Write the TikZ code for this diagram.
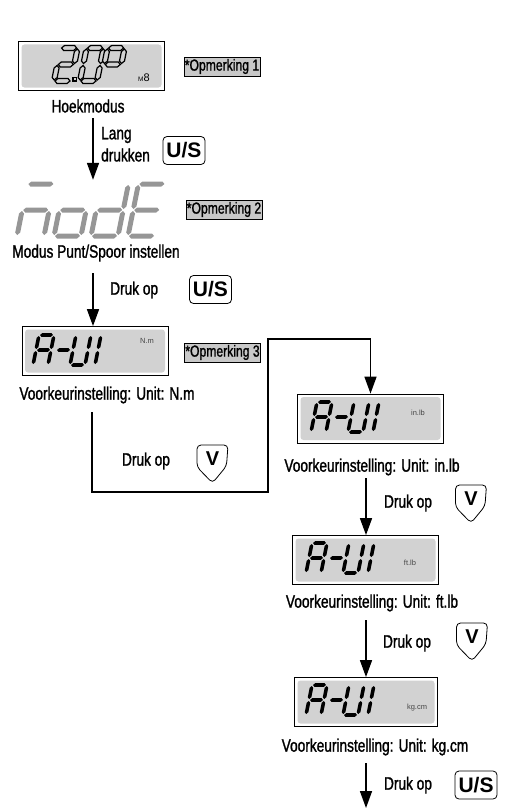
\documentclass[tikz,border=0pt]{standalone}
\usepackage{fontspec}
\setmainfont{Liberation Sans}
\newfontfamily\condfont{Liberation Sans}[FakeStretch=0.76, FakeBold=1.3]
\usepackage{tikz}
\usetikzlibrary{arrows.meta,calc,positioning}
\definecolor{lcdgray}{RGB}{210,210,210}
\definecolor{notegray}{RGB}{200,200,200}
\definecolor{modegray}{RGB}{150,150,150}
\definecolor{unitgray}{RGB}{70,70,70}

% seven segment characters
\def\segG{1}
\newcommand\segHor[2]{%
  \path[#2] ({\segG},{#1}) -- ({\segG+\segT/2},{#1+\segT/2}) -- ({\segW-\segG-\segT/2},{#1+\segT/2})
    -- ({\segW-\segG},{#1}) -- ({\segW-\segG-\segT/2},{#1-\segT/2}) -- ({\segG+\segT/2},{#1-\segT/2}) -- cycle;}
\newcommand\segVer[4]{%
  \path[#4] ({#1},{#2+\segG}) -- ({#1+\segT/2},{#2+\segG+\segT/2}) -- ({#1+\segT/2},{#3-\segG-\segT/2})
    -- ({#1},{#3-\segG}) -- ({#1-\segT/2},{#3-\segG-\segT/2}) -- ({#1-\segT/2},{#2+\segG+\segT/2}) -- cycle;}
\newcommand\lcdsega[1]{\segHor{\segHt}{#1}}
\newcommand\lcdsegb[1]{\segVer{\segW}{\segHt/2}{\segHt}{#1}}
\newcommand\lcdsegc[1]{\segVer{\segW}{0}{\segHt/2}{#1}}
\newcommand\lcdsegd[1]{\segHor{0}{#1}}
\newcommand\lcdsege[1]{\segVer{0}{0}{\segHt/2}{#1}}
\newcommand\lcdsegf[1]{\segVer{0}{\segHt/2}{\segHt}{#1}}
\newcommand\lcdsegg[1]{\segHor{\segHt/2}{#1}}
\newcommand\lcdchar[6]{% bottom left, width, height, thickness, segments, style
  \begin{scope}[shift={#1}, x=1pt, y=1pt, xslant=0.2]
    \def\segW{#2}\def\segHt{#3}\def\segT{#4}
    \foreach \s in {#5} {\csname lcdseg\s\endcsname{#6}}
  \end{scope}}

\begin{document}
\begin{tikzpicture}[x=1pt, y=-1pt,
  lbl/.style={font=\condfont\fontsize{18}{18}\selectfont, inner sep=0pt},
  note/.style={draw, line width=0.6pt, fill=notegray, font=\condfont\fontsize{16}{16}\selectfont,
    inner xsep=1pt, inner ysep=0pt, minimum height=19pt},
  uskey/.style={draw, line width=0.8pt, rounded corners=4pt, font=\bfseries\fontsize{21}{21}\selectfont,
    minimum height=28pt, inner xsep=3.5pt, inner ysep=0pt},
  vkey/.style={draw, line width=0.8pt, rounded corners=4pt},
  vmark/.style={font=\bfseries\fontsize{20}{20}\selectfont, inner sep=0pt},
  lcdbox/.style={draw, line width=0.8pt, minimum width=146pt, minimum height=49pt, inner sep=0pt,
    path picture={\fill[lcdgray, rounded corners=3pt]
      ([shift={(3pt,3pt)}]path picture bounding box.south west) rectangle
      ([shift={(-3pt,-3pt)}]path picture bounding box.north east);}},
  unit/.style={font=\fontsize{7.5}{7.5}\selectfont, text=unitgray, inner sep=0pt},
  segout/.style={draw=black, fill=lcdgray, line width=1.2pt},
  segon/.style={fill=black},
  segmode/.style={fill=modegray},
  flow/.style={line width=1.6pt, -{Triangle[width=12pt,length=17pt]}}]
\useasboundingbox (0,0) rectangle (508,808);

% Hoekmodus
\node[lcdbox] (d1) at (91.5,66) {};
\lcdchar{(54,81)}{17}{33}{5}{a,b,g,e,d}{segout}
\draw[segout] (73,77.5) rectangle (76.5,81);
\lcdchar{(80,81)}{17}{33}{5}{a,b,c,d,e,f}{segout}
\lcdchar{(101,81)}{17}{33}{5}{a,b,f,g}{segout}
\node[inner sep=0pt] (u1) at (144,78) {{\fontsize{6.5}{6.5}\selectfont M}{\fontsize{11}{11}\selectfont 8}};
\node[note] (opm1) at (222,66.5) {*Opmerking 1};
\node[lbl] (hoek) at (88,106) {Hoekmodus};
\coordinate (a1) at (93,118);
\node[lbl, anchor=west] (lang) at (101,135) {Lang};
\node[lbl, anchor=west] (druk1) at (101,155) {drukken};
\node[uskey] (us1) at (184,150.5) {U/S};

% ModE
\node[inner sep=0pt, minimum width=150pt, minimum height=58pt] (mode) at (93,209) {};
\lcdchar{(17,236)}{27}{52}{5}{a,g,e,c}{segmode}
\lcdchar{(54,236)}{27}{52}{5}{g,c,d,e}{segmode}
\lcdchar{(91,236)}{27}{52}{5}{b,c,d,e,g}{segmode}
\lcdchar{(128,236)}{27}{52}{5}{a,d,e,f,g}{segmode}
\draw[flow] (a1) -- (a1 |- mode.north);
\node[note] (opm2) at (224,209.5) {*Opmerking 2};
\node[lbl] (lbl2) at (96,253) {Modus Punt/Spoor instellen};
\coordinate (a2) at (93,273);
\node[lbl, anchor=west] (druk2) at (110,290) {Druk op};
\node[uskey] (us2) at (210.5,289.5) {U/S};

% Unit N.m
\node[lcdbox] (d3) at (95,351) {};
\draw[flow] (a2) -- (a2 |- d3.north);
\node[unit] (u3) at (147,341) {N.m};
\node[note] (opm3) at (222.5,352.5) {*Opmerking 3};
\node[lbl] (lbl3) at (107,395) {Voorkeurinstelling: Unit: N.m};
\node[lbl] (druk3) at (146,461) {Druk op};
\node[vmark] (v1) at (212.5,459) {V};

% Unit in.lb
\node[lcdbox] (d4) at (370.5,418.5) {};
\node[unit] (u4) at (418,413) {in.lb};
\node[lbl] (lbl4) at (372,467) {Voorkeurinstelling: Unit: in.lb};
\coordinate (a3) at (92,412);
\draw[flow] (a3) -- (92,492) -- (268,492) -- (268,339) -| (d4.north);
\coordinate (a4) at (366,478);
\node[lbl] (druk4) at (408,503) {Druk op};
\node[vmark] (v2) at (471,499) {V};

% Unit ft.lb
\node[lcdbox] (d5) at (365.5,560) {};
\draw[flow] (a4) -- (a4 |- d5.north);
\node[unit] (u5) at (410,563) {ft.lb};
\node[lbl] (lbl5) at (372,603) {Voorkeurinstelling: Unit: ft.lb};
\coordinate (a5) at (366,620);
\node[lbl] (druk5) at (407,643) {Druk op};
\node[vmark] (v3) at (472,637) {V};

% Unit kg.cm
\node[lcdbox, minimum width=143pt] (d6) at (366,702) {};
\draw[flow] (a5) -- (a5 |- d6.north);
\node[unit] (u6) at (417,708) {kg.cm};
\node[lbl] (lbl6) at (375,747) {Voorkeurinstelling: Unit: kg.cm};
\coordinate (a6) at (366,763);
\coordinate (a6e) at (366,808);
\draw[flow] (a6) -- (a6e);
\node[lbl] (druk6) at (408,785) {Druk op};
\node[uskey] (us3) at (476,785) {U/S};

% A-UI digits
\foreach \dx/\dy in {33/365, 311/432, 306/573, 306/715} {
  \lcdchar{(\dx,\dy)}{15}{30}{3.6}{a,b,c,e,f,g}{segon}
  \lcdchar{(\dx+20,\dy)}{15}{30}{3.6}{g}{segon}
  \lcdchar{(\dx+37,\dy)}{15}{30}{3.6}{b,c,d,e,f}{segon}
  \lcdchar{(\dx+62,\dy)}{15}{30}{3.6}{e,f}{segon}
}

% down keys
\foreach \k in {v1,v2,v3} {
  \draw[vkey] ($(\k)+(-15.5,-14)$) -- ($(\k)+(15.5,-14)$) -- ($(\k)+(14,7)$) -- ($(\k)+(0,24)$)
    -- ($(\k)+(-15.5,8)$) -- cycle;
}
\end{tikzpicture}
\end{document}
